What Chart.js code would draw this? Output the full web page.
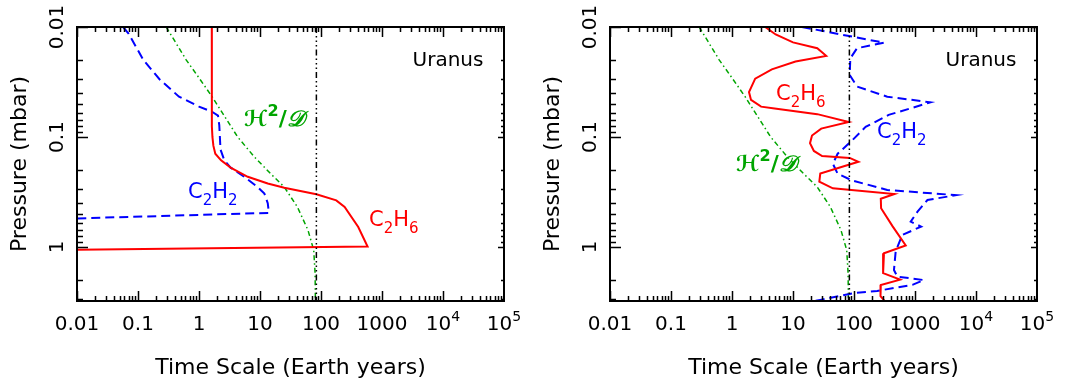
<!DOCTYPE html>
<html>
<head>
<meta charset="utf-8">
<script src="https://cdn.jsdelivr.net/npm/chart.js@4.4.1/dist/chart.umd.min.js"></script>
<style>
  body { margin: 0; background: #fff; }
  #wrap { display: flex; width: 1070px; height: 386px; }
  canvas { display: block; }
</style>
</head>
<body>
<div id="wrap">
  <canvas id="left" width="533" height="386"></canvas>
  <canvas id="right" width="537" height="386"></canvas>
</div>
<script>
// time scale in Earth years, pressure in mbar
const yearLineTime = [84, 84];
const yearLinePressure = [0.01, 3.1];

// H^2/D diffusion time (same in both panels)
const diffTime = [0.29, 0.62, 1.0, 1.64, 4.3, 8.1, 15, 25, 41, 61, 76, 80, 81];
const diffPressure = [0.01, 0.02, 0.029, 0.043, 0.1, 0.152, 0.216, 0.285, 0.433, 0.70, 1.07, 1.73, 3.1];

// left panel
const leftC2H6Time = [1.62, 1.62, 1.63, 1.66, 1.72, 1.85, 2.3, 3.3, 6.3, 13.4, 25, 84, 178, 244, 408, 580, 0.01];
const leftC2H6Pressure = [0.01, 0.05, 0.08, 0.1, 0.12, 0.142, 0.163, 0.19, 0.23, 0.265, 0.289, 0.332, 0.377, 0.433, 0.658, 0.99, 1.06];
const leftC2H2Time = [0.057, 0.07, 0.123, 0.227, 0.47, 1.0, 1.64, 2.05, 2.15, 2.2, 2.25, 2.6, 3.3, 5.5, 9.1, 11.8, 13.4, 14, 0.01];
const leftC2H2Pressure = [0.01, 0.0115, 0.02, 0.03, 0.043, 0.053, 0.059, 0.064, 0.078, 0.1, 0.13, 0.163, 0.19, 0.23, 0.285, 0.327, 0.40, 0.49, 0.55];

// right panel
const rightC2H6Time = [3.5, 5.2, 10, 25, 35, 11, 4.5, 2.4, 1.9, 2.05, 3.0, 5.0, 25, 82, 29, 20.5, 19, 22, 30, 85, 118, 28, 27, 45, 460, 275, 278, 430, 705, 310, 300, 570, 275, 272, 350];
const rightC2H6Pressure = [0.01, 0.0117, 0.0138, 0.0156, 0.0183, 0.0206, 0.0243, 0.0295, 0.039, 0.046, 0.053, 0.055, 0.062, 0.073, 0.084, 0.097, 0.114, 0.134, 0.149, 0.155, 0.168, 0.215, 0.255, 0.293, 0.33, 0.365, 0.445, 0.65, 0.97, 1.14, 1.73, 1.98, 2.22, 2.8, 3.3];
const rightC2H2Time = [14, 311, 112, 87, 85, 112, 351, 1800, 370, 155, 94, 54, 45, 54, 94, 351, 4700, 1600, 1100, 850, 1260, 617, 482, 452, 513, 1400, 907, 240, 100, 28, 17];
const rightC2H2Pressure = [0.01, 0.0139, 0.0156, 0.0193, 0.0273, 0.0348, 0.043, 0.0484, 0.063, 0.081, 0.107, 0.142, 0.175, 0.216, 0.249, 0.303, 0.338, 0.374, 0.477, 0.589, 0.653, 0.778, 1.10, 1.62, 1.86, 2.0, 2.21, 2.51, 2.63, 3.03, 3.2];

// axes
const xTickValues = [0.01, 0.1, 1, 10, 100, 1000, 1e4, 1e5];
const xTickLabels = ['0.01', '0.1', '1', '10', '100', '1000', '10^4', '10^5'];
const yTickValues = [0.01, 0.1, 1];
const yTickLabels = ['0.01', '0.1', '1'];

const RED = '#ff0000', BLUE = '#0000ff', GREEN = '#00a500';
const FONT = '"DejaVu Sans"';

function pts(xs, ys) {
  return xs.map((x, i) => ({ x: x, y: ys[i] }));
}

function fontFor(p, size) {
  const kind = p[1] || 'n';
  const s = kind === 'n' ? size : Math.round(size * 0.72);
  return (p[2] || '') + ' ' + s + 'px ' + FONT;
}

function richWidth(ctx, parts, size) {
  let w = 0;
  parts.forEach(p => {
    ctx.font = fontFor(p, size);
    w += ctx.measureText(p[0]).width;
  });
  return w;
}

function drawRich(ctx, parts, x, y, size, align) {
  let cx = align === 'center' ? x - richWidth(ctx, parts, size) / 2 : x;
  ctx.textAlign = 'left';
  ctx.textBaseline = 'alphabetic';
  parts.forEach(p => {
    const kind = p[1] || 'n';
    const dy = kind === 'sub' ? size * 0.33 : kind === 'sup' ? -size * 0.45 : 0;
    ctx.font = fontFor(p, size);
    ctx.fillText(p[0], cx, y + dy);
    cx += ctx.measureText(p[0]).width;
  });
}

// frame, inward ticks on all sides, tick labels, curve labels
const decor = {
  id: 'decor',
  afterDatasetsDraw(chart, args, opts) {
    const ctx = chart.ctx;
    const { left, right, top, bottom } = chart.chartArea;
    const xs = chart.scales.x, ys = chart.scales.y;
    ctx.save();
    ctx.strokeStyle = '#000';
    ctx.lineWidth = 1.5;
    ctx.beginPath();
    for (let e = -2; e < 5; e++) {
      for (let k = 1; k < 10; k++) {
        const px = Math.round(xs.getPixelForValue(k * Math.pow(10, e))) + 0.5;
        const len = k === 1 ? 10 : 5;
        ctx.moveTo(px, bottom); ctx.lineTo(px, bottom - len);
        ctx.moveTo(px, top); ctx.lineTo(px, top + len);
      }
    }
    for (let e = -2; e <= 0; e++) {
      for (let k = 1; k < 10; k++) {
        const v = k * Math.pow(10, e);
        if (v > ys.max) break;
        const py = Math.round(ys.getPixelForValue(v)) + 0.5;
        ctx.moveTo(left, py); ctx.lineTo(left + (k === 1 ? 11 : 6), py);
        ctx.moveTo(right, py); ctx.lineTo(right - (k === 1 ? 6 : 3), py);
      }
    }
    ctx.stroke();
    ctx.lineWidth = 2;
    ctx.strokeRect(left, top, right - left, bottom - top);

    ctx.fillStyle = '#000';
    xTickValues.forEach((v, i) => {
      const px = xs.getPixelForValue(v);
      const lab = xTickLabels[i].split('^');
      const parts = lab.length > 1 ? [[lab[0]], [lab[1], 'sup']] : [[lab[0]]];
      drawRich(ctx, parts, px, 330, 20, 'center');
    });
    yTickValues.forEach((v, i) => {
      const py = ys.getPixelForValue(v);
      ctx.save();
      ctx.translate(left - 14, py);
      ctx.rotate(-Math.PI / 2);
      drawRich(ctx, [[yTickLabels[i]]], 0, 0, 20, 'center');
      ctx.restore();
    });

    opts.labels.forEach(l => {
      ctx.fillStyle = l.color;
      drawRich(ctx, l.parts, l.x, l.y, l.size, l.align);
    });
    ctx.restore();
  }
};

const formula = (d) => [['C'], ['2', 'sub'], ['H'], [d, 'sub']];
const scriptLabel = [['ℋ', 'n', 'italic bold'], ['2', 'sup', 'bold'], ['/', 'n', 'bold'], ['𝒟', 'n', 'italic bold']];

function makeChart(id, padRight, c2h6, c2h2, labels) {
  const ctx = document.getElementById(id).getContext('2d');
  return new Chart(ctx, {
    type: 'scatter',
    data: {
      datasets: [
        { data: pts(yearLineTime, yearLinePressure), borderColor: '#000', borderWidth: 1.5,
          borderDash: [6, 3, 1.5, 3, 1.5, 3, 1.5, 3] },
        { data: c2h6, borderColor: RED, borderWidth: 2 },
        { data: c2h2, borderColor: BLUE, borderWidth: 2, borderDash: [9, 5] },
        { data: pts(diffTime, diffPressure), borderColor: GREEN, borderWidth: 1.5,
          borderDash: [5, 3, 1.5, 3] }
      ].map(d => Object.assign(d, { showLine: true, pointRadius: 0, tension: 0, fill: false }))
    },
    options: {
      responsive: false,
      animation: false,
      layout: { padding: { top: 27, right: padRight, left: 0, bottom: 0 } },
      plugins: {
        legend: { display: false },
        tooltip: { enabled: false },
        decor: { labels: labels }
      },
      scales: {
        x: {
          type: 'logarithmic', min: 0.01, max: 1e5,
          ticks: { display: false }, grid: { display: false }, border: { display: false },
          title: { display: true, text: 'Time Scale (Earth years)', color: '#000',
                   font: { family: 'DejaVu Sans', size: 22 }, padding: { top: 0, bottom: 5 } },
          afterFit: s => { s.height = 85; }
        },
        y: {
          type: 'logarithmic', reverse: true, min: 0.01, max: 3.1,
          ticks: { display: false }, grid: { display: false }, border: { display: false },
          title: { display: true, text: 'Pressure (mbar)', color: '#000',
                   font: { family: 'DejaVu Sans', size: 22 }, padding: { top: 7, bottom: 0 } },
          afterFit: s => { s.width = 77; }
        }
      }
    },
    plugins: [decor]
  });
}

makeChart('left', 29, pts(leftC2H6Time, leftC2H6Pressure), pts(leftC2H2Time, leftC2H2Pressure), [
  { parts: [['Uranus']], x: 448, y: 66, size: 20, align: 'center', color: '#000' },
  { parts: formula('2'), x: 188, y: 198, size: 21, color: BLUE },
  { parts: formula('6'), x: 369, y: 226, size: 21, color: RED },
  { parts: scriptLabel, x: 244, y: 126, size: 22, color: GREEN }
]);

makeChart('right', 33, pts(rightC2H6Time, rightC2H6Pressure), pts(rightC2H2Time, rightC2H2Pressure), [
  { parts: [['Uranus']], x: 448, y: 66, size: 20, align: 'center', color: '#000' },
  { parts: formula('6'), x: 243, y: 100, size: 21, color: RED },
  { parts: formula('2'), x: 344, y: 138, size: 21, color: BLUE },
  { parts: scriptLabel, x: 203, y: 171, size: 22, color: GREEN }
]);
</script>
</body>
</html>
